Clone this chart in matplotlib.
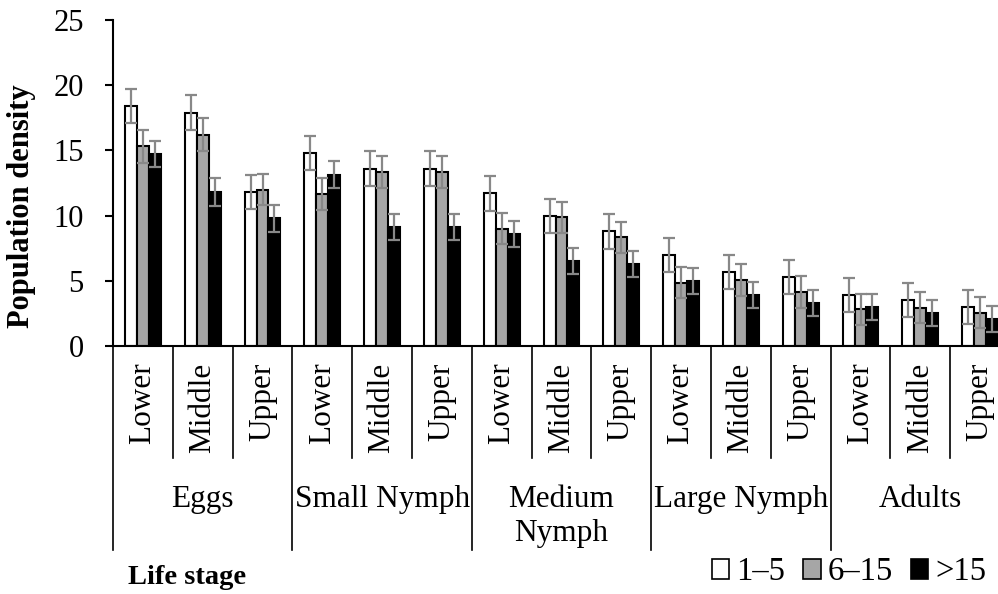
import numpy as np
import matplotlib
matplotlib.use("Agg")
import matplotlib.pyplot as plt
from matplotlib.patches import Patch
import matplotlib.transforms as mtransforms

plt.rcParams['font.family'] = ['Liberation Serif', 'DejaVu Serif']

stages = ["Eggs", "Small Nymph", "Medium\nNymph", "Large Nymph", "Adults"]
positions = ["Lower", "Middle", "Upper"]
series_names = ["1\u20135", "6\u201315", ">15"]

dens_1_5 = [18.4, 17.9, 11.8, 14.8, 13.6, 13.6, 11.7, 10.0, 8.8,
            7.0, 5.65, 5.27, 3.9, 3.5, 3.0]
dens_6_15 = [15.3, 16.2, 12.0, 11.65, 13.35, 13.35, 9.0, 9.87, 8.33,
             4.86, 5.06, 4.14, 2.81, 2.94, 2.56]
dens_15 = [14.7, 11.8, 9.8, 13.15, 9.15, 9.15, 8.6, 6.5, 6.3,
           5.0, 3.88, 3.27, 3.0, 2.5, 2.1]

err_1_5 = [1.3, 1.35, 1.3, 1.3, 1.35, 1.35, 1.35, 1.3, 1.35,
           1.3, 1.3, 1.3, 1.3, 1.3, 1.3]
err_6_15 = [1.25, 1.25, 1.2, 1.25, 1.2, 1.2, 1.2, 1.2, 1.2,
            1.2, 1.2, 1.2, 1.2, 1.2, 1.2]
err_15 = [1.0, 1.05, 1.05, 1.0, 1.0, 1.0, 1.0, 1.0, 1.0,
          1.0, 1.0, 1.0, 1.0, 1.0, 1.0]

colors = ["white", "#a6a6a6", "black"]

fig = plt.figure(figsize=(9.98, 5.94), dpi=100)
# axes runs a little past the right edge of the figure
ax = fig.add_axes([113 / 998, 248 / 594, 897 / 998, 326 / 594])

n = len(dens_1_5)
x = np.arange(n) + 0.5
w = 0.2
for k, (vals, errs) in enumerate([(dens_1_5, err_1_5), (dens_6_15, err_6_15), (dens_15, err_15)]):
    ax.bar(x + (k - 1) * w, vals, width=w, color=colors[k], edgecolor="black",
           linewidth=1.5, yerr=errs, zorder=2,
           error_kw=dict(ecolor="#888888", elinewidth=1.6, capsize=4, capthick=1.6))

ax.set_xlim(0, n)
ax.set_ylim(0, 25)
ax.set_yticks(range(0, 26, 5))
ax.tick_params(axis="y", direction="out", length=6, width=1.5, labelsize=22, pad=15)
ax.set_xticks([])
for s in ["top", "right"]:
    ax.spines[s].set_visible(False)
ax.spines["left"].set_linewidth(1.5)
ax.spines["bottom"].set_linewidth(1.5)

# two-level category axis
trans = mtransforms.blended_transform_factory(ax.transData, ax.transAxes)
for i in range(n + 1):
    bottom = -0.625 if i % 3 == 0 else -0.345
    ax.plot([i, i], [0, bottom], color="black", lw=1.2, transform=trans, clip_on=False)
for i in range(n):
    ax.text(i + 0.5, -0.05, positions[i % 3], rotation=90, ha="center", va="top",
            fontsize=22.5, transform=trans)
for j, st in enumerate(stages):
    ax.text(3 * j + 1.5, -0.425, st, ha="center", va="top", fontsize=22.5,
            linespacing=1.25, transform=trans)

fig.text(22 / 998, 1 - 206 / 594, "Population density", rotation=90,
         ha="center", va="center", fontsize=22, fontweight="bold")
fig.text(128 / 998, 1 - 577 / 594, "Life stage", ha="left", va="center",
         fontsize=20.5, fontweight="bold")

handles = [Patch(facecolor=c, edgecolor="black", linewidth=1.2) for c in colors]
fig.legend(handles, series_names, loc="center right", bbox_to_anchor=(986 / 998, 1 - 572 / 594),
           ncol=3, frameon=False, fontsize=23.5, handlelength=0.55, handleheight=0.55,
           handletextpad=0.2, columnspacing=0.55, borderpad=0, borderaxespad=0)

fig.savefig("out.png", dpi=100)
